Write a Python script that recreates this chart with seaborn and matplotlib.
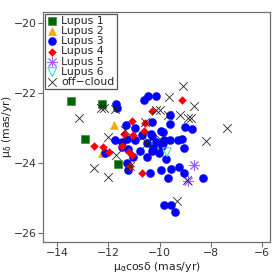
import matplotlib
matplotlib.use('Agg')
import matplotlib.pyplot as plt
import numpy as np
import pandas as pd
import seaborn as sns

# proper motions (mas/yr)
lupus1_pmra = [-13.45, -12.24, -12.91, -11.62]
lupus1_pmde = [-22.24, -22.32, -23.32, -24.04]

lupus2_pmra = [-11.79, -12.24]
lupus2_pmde = [-22.92, -23.72]

lupus3_pmra = [-11.70, -11.66, -11.30, -10.62, -10.45, -10.13, -10.29, -9.61, -9.61, -9.02,
               -8.73, -9.96, -10.33, -9.86, -10.68, -10.95, -9.13, -10.30, -9.81, -9.59,
               -9.26, -11.28, -10.95, -11.73, -11.47, -11.47, -12.13, -10.50, -10.13, -9.85,
               -9.05, -10.24, -10.76, -10.30, -10.04, -10.50, -9.73, -11.02, -11.28, -11.23,
               -10.39, -9.94, -9.55, -9.22, -9.05, -9.68, -8.31, -9.81, -9.57, -9.38,
               -9.90, -11.23]
lupus3_pmde = [-22.32, -22.44, -22.92, -22.21, -22.08, -22.09, -22.83, -22.64, -22.89, -22.98,
               -23.04, -23.09, -23.17, -23.12, -23.21, -23.01, -23.31, -23.24, -23.34, -23.35,
               -23.34, -23.33, -23.35, -23.35, -23.41, -23.56, -23.71, -23.43, -23.40, -23.43,
               -23.58, -23.59, -23.66, -23.66, -23.73, -23.83, -23.91, -23.83, -24.02, -24.21,
               -24.29, -24.20, -24.19, -24.12, -24.29, -24.45, -24.43, -25.21, -25.21, -25.41,
               -23.53, -23.62]

lupus4_pmra = [-9.13, -10.30, -11.06, -10.55, -11.38, -11.02, -12.54, -12.21, -11.97, -11.47,
               -11.21, -11.08, -11.15, -10.67, -10.59]
lupus4_pmde = [-22.21, -22.52, -22.80, -22.86, -23.19, -23.21, -23.51, -23.54, -23.69, -23.52,
               -23.69, -23.78, -24.11, -24.29, -23.09]

lupus5_pmra = [-8.65, -8.88]
lupus5_pmde = [-24.07, -24.52]

lupus6_pmra = [-9.71]
lupus6_pmde = [-23.70]

off_pmra = [-13.16, -12.30, -12.15, -11.73, -12.00, -9.10, -9.63, -8.65, -10.12, -9.99,
            -9.66, -9.21, -8.90, -8.79, -10.56, -10.63, -9.98, -10.50, -7.35, -8.18,
            -12.54, -12.03, -11.70, -11.15, -9.33, -8.92, -11.34]
off_pmde = [-22.73, -22.44, -22.45, -22.47, -23.26, -21.81, -22.11, -22.38, -22.49, -22.49,
            -22.65, -22.65, -22.72, -22.72, -22.84, -23.23, -23.31, -23.45, -23.02, -23.38,
            -24.14, -24.42, -23.79, -24.11, -25.09, -24.51, -23.07]

sns.set_style('ticks')
plt.rcParams['font.family'] = ['DejaVu Sans']
plt.rcParams['mathtext.fontset'] = 'dejavusans'
plt.rcParams['mathtext.default'] = 'regular'

fig = plt.figure(figsize=(2.74, 2.74), dpi=100)
ax = fig.add_axes([0.157, 0.117, 0.828, 0.839])

groups = [
    ('Lupus 1', lupus1_pmra, lupus1_pmde, dict(marker='s', color='#006400', edgecolor='#2e7d2e', linewidth=0.4, s=30)),
    ('Lupus 2', lupus2_pmra, lupus2_pmde, dict(marker='^', color='#ffa500', edgecolor='#ffa500', linewidth=0.3, s=34)),
    ('Lupus 3', lupus3_pmra, lupus3_pmde, dict(marker='o', color='#0000ff', edgecolor='#0000ff', linewidth=0.3, s=34)),
    ('Lupus 4', lupus4_pmra, lupus4_pmde, dict(marker='D', color='#ff0000', edgecolor='#ff0000', linewidth=0.3, s=16)),
    ('Lupus 5', lupus5_pmra, lupus5_pmde, dict(marker=(8, 2, 0), color='#a060ff', linewidth=0.7, s=55)),
    ('Lupus 6', lupus6_pmra, lupus6_pmde, dict(marker='v', color='#40d8d8', facecolor='none', edgecolor='#40d8d8', linewidth=0.8, s=40)),
    ('off\u2212cloud', off_pmra, off_pmde, dict(marker='x', color='#222222', linewidth=0.6, s=38)),
]

for name, xs, ys, kw in groups:
    df = pd.DataFrame({'pmra': xs, 'pmde': ys})
    sns.scatterplot(data=df, x='pmra', y='pmde', label=name, ax=ax, **kw)

ax.set_xlim(-14.55, -5.69)
ax.set_ylim(-26.27, -19.69)
ax.set_xticks([-14, -12, -10, -8, -6])
ax.set_yticks([-26, -24, -22, -20])

for sp in ax.spines.values():
    sp.set_color('#707070')
    sp.set_linewidth(0.9)
ax.tick_params(axis='both', direction='out', length=3.5, width=0.8, color='#707070',
               labelsize=7.8, labelcolor='#333333', pad=1.2)

ax.set_xlabel('$\\mu_\\alpha$cos\u03b4 (mas/yr)', fontsize=7.8, color='#222222', labelpad=1)
ax.set_ylabel('$\\mu_\\delta$ (mas/yr)', fontsize=7.8, color='#222222')
ax.yaxis.set_label_coords(-0.13, 0.5)

leg = ax.legend(loc='upper left', fontsize=7.8, frameon=True, fancybox=False,
                borderpad=0.2, labelspacing=0.02, handlelength=1.0, handletextpad=0.35,
                borderaxespad=0.15, framealpha=1)
leg.get_frame().set_edgecolor('#555555')
leg.get_frame().set_linewidth(0.9)

fig.savefig('out.png', dpi=100)
